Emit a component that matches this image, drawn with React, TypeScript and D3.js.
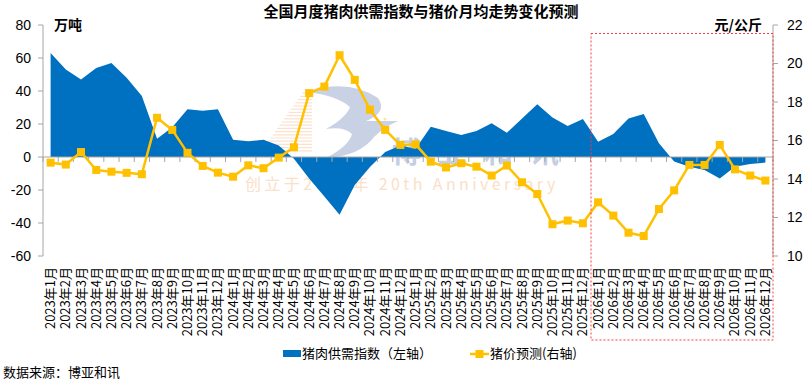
import React from "react";
import * as d3 from "d3";

const years = ["2023", "2024", "2025", "2026"];
const months = ["1", "2", "3", "4", "5", "6", "7", "8", "9", "10", "11", "12"];
const categories: string[] = years.flatMap((y) => months.map((m) => `${y}年${m}月`));

// 猪肉供需指数（左轴，万吨）
const supplyDemand = [
  63, 53, 47, 54, 57, 48, 37, 11, 18, 29, 28, 29,
  10.5, 9.5, 10.5, 7, -1, -13, -24, -35, -17, -6, 3, 7,
  5, 18.4, 15.8, 13.3, 15.8, 20.4, 14.7, 23.4, 32, 24, 18.8, 23,
  9.3, 14, 23.4, 26, 8.3, -2.8, -5.9, -7.9, -13, -5.9, -4.2, -3.4,
];

// 猪价预测（右轴，元/公斤）
const hogPrice = [
  14.85, 14.75, 15.4, 14.47, 14.38, 14.32, 14.25, 17.18, 16.55, 15.36, 14.68, 14.33,
  14.12, 14.71, 14.56, 15.11, 15.65, 18.46, 18.8, 20.43, 19.15, 17.6, 16.55, 15.77,
  15.8, 14.9, 14.6, 14.82, 14.64, 14.18, 14.7, 13.83, 13.22, 11.65, 11.84, 11.7,
  12.79, 12.1, 11.21, 11.04, 12.44, 13.41, 14.73, 14.73, 15.77, 14.5, 14.18, 13.92,
];

const leftTicks = [-60, -40, -20, 0, 20, 40, 60, 80];
const rightTicks = [10, 12, 14, 16, 18, 20, 22];

const title = "全国月度猪肉供需指数与猪价月均走势变化预测";
const leftUnit = "万吨";
const rightUnit = "元/公斤";
const legendArea = "猪肉供需指数（左轴）";
const legendLine = "猪价预测(右轴)";
const source = "数据来源：博亚和讯";
const forecastStart = "2026年1月";

const W = 810;
const H = 380;
const L = 43;
const R = 773;
const T = 25;
const B = 256;

const BLUE = "#0070c0";
const GOLD = "#ffc000";
const AXIS = "#a6a6a6";
const LATIN = "'Liberation Sans', Arial, 'Noto Sans CJK SC', sans-serif";
const CJK = "'Noto Sans CJK SC', 'Liberation Sans', sans-serif";

export default function App() {
  const x = d3.scaleBand<string>().domain(categories).range([L, R]).paddingInner(0).paddingOuter(0);
  const bw = x.bandwidth();
  const cx = (c: string) => (x(c) as number) + bw / 2;
  const yL = d3.scaleLinear().domain([-60, 80]).range([B, T]);
  const yR = d3.scaleLinear().domain([10, 22]).range([B, T]);

  const area = d3
    .area<number>()
    .x((_, i) => cx(categories[i]))
    .y0(yL(0))
    .y1((d) => yL(d));
  const line = d3
    .line<number>()
    .x((_, i) => cx(categories[i]))
    .y((d) => yR(d));

  const boundaries = categories.map((c) => x(c) as number).concat([R]);
  const fx = x(forecastStart) as number;

  const stripes: number[] = d3.range(90, 152, 3.2);

  return (
    <svg
      width={W}
      height={H}
      style={{ position: "absolute", left: 0, top: 0, background: "#fff" }}
    >
      <rect width={W} height={H} fill="#fff" />
      {/* watermark */}
      <g>
        {stripes.map((yy, i) => {
          const t = (yy - 88) / 62;
          const x0 = 306 - t * 44;
          return <line key={i} x1={x0} x2={312} y1={yy} y2={yy} stroke="#fbe2cc" strokeWidth={1.2} />;
        })}
        <path
          d="M306,92 Q348,78 378,98 Q388,112 366,121 L398,121 Q384,127 374,137 Q360,156 326,158 Q349,146 352,134 Q344,126 326,129 Q346,118 350,107 Q336,95 306,92 Z"
          fill="#c9d1e5"
        />
        <circle cx={385} cy={119} r={1.5} fill="#f5e9a0" />
        <text x={392} y={163} fontFamily={CJK} fontWeight="bold" fontSize={29} letterSpacing={17} fill="#c6cee2">
          博亚和讯
        </text>
        <text x={245} y={190} fontFamily={CJK} fontSize={16} letterSpacing={3.4} fill="#fbe0c8">
          创立于2005年 20th Anniversary
        </text>
      </g>

      {/* area */}
      <path d={area(supplyDemand) as string} fill={BLUE} />

      {/* axes */}
      <line x1={L} x2={L} y1={T} y2={B} stroke={AXIS} strokeWidth={1} />
      <line x1={R} x2={R} y1={T} y2={B} stroke={AXIS} strokeWidth={1} />
      <line x1={L} x2={R} y1={yL(0)} y2={yL(0)} stroke={AXIS} strokeWidth={1} />
      {boundaries.map((bx, i) => (
        <line key={i} x1={bx} x2={bx} y1={yL(0)} y2={yL(0) + 5} stroke={AXIS} strokeWidth={1} />
      ))}
      {leftTicks.map((t) => (
        <g key={t}>
          <line x1={L - 5} x2={L} y1={yL(t)} y2={yL(t)} stroke={AXIS} />
          <text x={31} y={yL(t)} dy="0.35em" textAnchor="end" fontFamily={LATIN} fontSize={14} fill="#000">
            {t}
          </text>
        </g>
      ))}
      {rightTicks.map((t) => (
        <g key={t}>
          <line x1={R} x2={R + 5} y1={yR(t)} y2={yR(t)} stroke={AXIS} />
          <text x={787} y={yR(t)} dy="0.35em" textAnchor="start" fontFamily={LATIN} fontSize={14} fill="#000">
            {t}
          </text>
        </g>
      ))}

      {/* line */}
      <path d={line(hogPrice) as string} fill="none" stroke={GOLD} strokeWidth={2.5} strokeLinejoin="round" />
      {hogPrice.map((v, i) => (
        <rect key={i} x={cx(categories[i]) - 4} y={yR(v) - 4} width={8} height={8} fill={GOLD} />
      ))}

      {/* category labels */}
      {categories.map((c) => (
        <text
          key={c}
          transform={`translate(${cx(c) + 4.5},267) rotate(-90)`}
          textAnchor="end"
          fontFamily={CJK}
          fontSize={13}
          fill="#000"
        >
          {c}
        </text>
      ))}

      {/* forecast box */}
      <rect
        x={fx + 0.5}
        y={33.5}
        width={R - fx - 0.5}
        height={306.5}
        fill="none"
        stroke="#ff3b3b"
        strokeWidth={1}
        strokeDasharray="2,2"
      />

      {/* title & units */}
      <text x={421} y={17} textAnchor="middle" fontFamily={CJK} fontWeight="bold" fontSize={15} fill="#000">
        {title}
      </text>
      <text x={54} y={30} fontFamily={CJK} fontWeight="bold" fontSize={14} fill="#000">
        {leftUnit}
      </text>
      <text x={762} y={30} textAnchor="end" fontFamily={CJK} fontWeight="bold" fontSize={14} fill="#000">
        {rightUnit}
      </text>

      {/* legend */}
      <rect x={283} y={350} width={18} height={7} fill={BLUE} />
      <text x={302} y={358} fontFamily={CJK} fontSize={13} fill="#000">
        {legendArea}
      </text>
      <line x1={470} x2={489} y1={354} y2={354} stroke={GOLD} strokeWidth={2.5} />
      <rect x={475.5} y={350} width={8} height={8} fill={GOLD} />
      <text x={490} y={358} fontFamily={CJK} fontSize={13} fill="#000">
        {legendLine}
      </text>

      {/* source */}
      <text x={3} y={377} fontFamily={CJK} fontSize={13} fill="#000">
        {source}
      </text>
    </svg>
  );
}
